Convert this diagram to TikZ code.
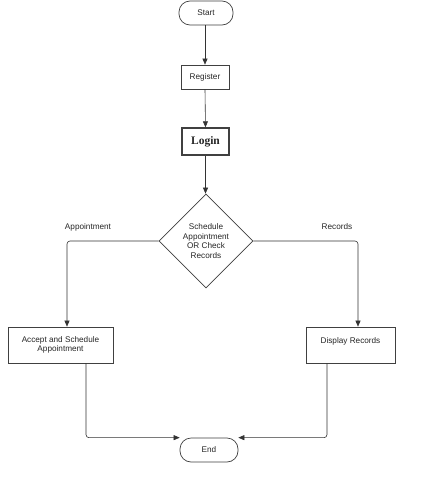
\documentclass[tikz,border=0pt]{standalone}
\usepackage{fontspec}
\setmainfont{Liberation Sans}
\newfontfamily\serifb{Liberation Serif}
\usetikzlibrary{shapes.geometric,arrows.meta}
\begin{document}
\begin{tikzpicture}[x=1pt,y=-1pt,
  base/.style={draw=black!75, line width=0.7pt, inner sep=0pt, align=center,
    font=\fontsize{8.2}{9.5}\selectfont, text=black!85},
  term/.style={base, rectangle, rounded corners=11pt},
  proc/.style={base, rectangle},
  dec/.style={base, diamond, aspect=1},
  lbl/.style={font=\fontsize{8.2}{9.5}\selectfont, text=black!85, inner sep=0pt},
  flow/.style={draw=black!80, line width=0.6pt, rounded corners=3pt,
    -{Triangle[length=6pt,width=5pt]}}]
\useasboundingbox (0,0) rectangle (427,479);
\fill[white] (0,0) rectangle (427,479);

\node[term, minimum width=54pt, minimum height=24pt] (start) at (206,13) {Start};
\node[proc, minimum width=48pt, minimum height=24pt] (reg) at (205,77) {Register};
\node[proc, line width=1.4pt, minimum width=47pt, minimum height=27pt,
  font=\serifb\bfseries\fontsize{11.5}{12}\selectfont] (login) at (205.5,141.5) {Login};
\node[dec, minimum width=94pt, minimum height=94pt] (dec) at (206,241)
  {Schedule\\Appointment\\OR Check\\Records};
\node[proc, minimum width=105pt, minimum height=36pt] (acc) at (60.5,345)
  {Accept and Schedule\\Appointment};
\node[proc, minimum width=89pt, minimum height=36pt] (disp) at (350.5,345)
  {Display Records\\\mbox{}};
\node[term, minimum width=58pt, minimum height=24pt] (end) at (209,450) {End};

\node[lbl] (lapp) at (88,227) {Appointment};
\node[lbl] (lrec) at (337,227) {Records};

\draw[flow] (reg.north |- start.south) -- (reg.north);
\draw[flow] (reg.south) -- (login.north);
\draw[flow] (login.south) -- (login.south |- dec.north);
\draw[flow] (dec.west) -| ([xshift=6.5pt]acc.north);
\draw[flow] (dec.east) -| ([xshift=7.5pt]disp.north);
\draw[flow] ([xshift=25.5pt]acc.south) |- (end.north west);
\draw[flow] ([xshift=-23.5pt]disp.south) |- (end.north east);
\end{tikzpicture}
\end{document}
